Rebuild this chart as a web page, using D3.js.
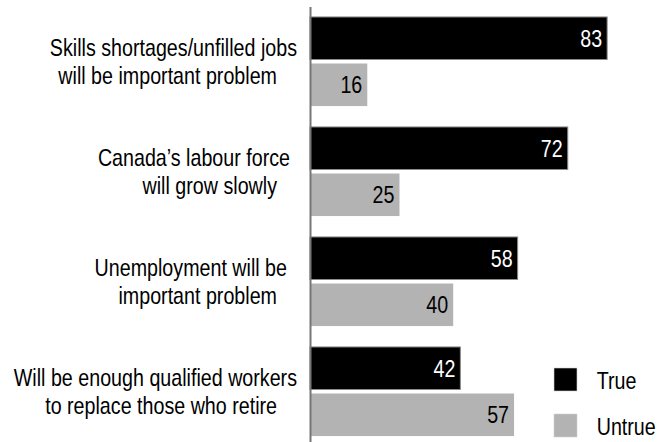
<!DOCTYPE html>
<html>
<head>
<meta charset="utf-8">
<script src="https://cdn.jsdelivr.net/npm/d3@7"></script>
<style>
  html, body { margin: 0; padding: 0; background: #fff; }
  svg { display: block; }
  text { font-family: "Liberation Sans", Arial, sans-serif; }
</style>
</head>
<body>
<svg id="chart" width="658" height="442"></svg>
<script>
// Survey statements, each shown on two lines
const categories = [
  "Skills shortages/unfilled jobs will be important problem",
  "Canada's labour force will grow slowly",
  "Unemployment will be important problem",
  "Will be enough qualified workers to replace those who retire"
];
const categoryLines = [
  ["Skills shortages/unfilled jobs", "will be important problem"],
  ["Canada\u2019s labour force", "will grow slowly"],
  ["Unemployment will be", "important problem"],
  ["Will be enough qualified workers", "to replace those who retire"]
];
const seriesNames = ["True", "Untrue"];
const trueValues = [83, 72, 58, 42];
const untrueValues = [16, 25, 40, 57];

// Layout and style
const W = 658, H = 442;
const axisX0 = 310, axisX100 = 668;
const colors = { True: "#000000", Untrue: "#b3b3b3" };
const labelColors = { True: "#ffffff", Untrue: "#000000" };
const lineRightEdge = [[297, 277], [290, 277], [287, 277], [297, 277]];
const fontSize = 24;
const narrow = 0.82; // horizontal squeeze for a condensed look

const svg = d3.select("#chart");

// Places a text at (px, py) with the condensed horizontal scale
function place(sel, px, py) {
  sel.attr("x", 0).attr("y", 0)
    .attr("transform", (d, i) => `translate(${px(d, i)},${py(d, i)}) scale(${narrow},1)`);
}

const x = d3.scaleLinear().domain([0, 100]).range([axisX0, axisX100]);
const y = d3.scaleBand().domain(categories).range([6.5, 446.5])
  .paddingInner(0.19).paddingOuter(0.095);
const ySub = d3.scaleBand().domain(seriesNames).range([0, y.bandwidth()])
  .paddingInner(0.086);

const rows = categories.map((c, i) => ({
  category: c,
  lines: categoryLines[i],
  values: [
    { series: "True", value: trueValues[i] },
    { series: "Untrue", value: untrueValues[i] }
  ]
}));

const groups = svg.append("g").selectAll("g.group")
  .data(rows).join("g")
  .attr("class", "group")
  .attr("transform", d => `translate(0,${y(d.category)})`);

groups.selectAll("rect")
  .data(d => d.values).join("rect")
  .attr("x", x(0))
  .attr("y", d => ySub(d.series))
  .attr("width", d => x(d.value) - x(0))
  .attr("height", ySub.bandwidth())
  .attr("fill", d => colors[d.series])
  .attr("stroke", d => d.series === "True" ? "#8c8c8c" : "none")
  .attr("stroke-width", 1);

groups.selectAll("text.value")
  .data(d => d.values).join("text")
  .attr("class", "value")
  .attr("text-anchor", "end")
  .attr("font-size", fontSize)
  .attr("fill", d => labelColors[d.series])
  .text(d => d.value)
  .call(place,
    d => x(d.value) - 5,
    d => ySub(d.series) + ySub.bandwidth() / 2 + fontSize * 0.36);

// Category labels, two lines beside each pair of bars
groups.each(function (d, i) {
  const cy = y.bandwidth() / 2;
  d3.select(this).selectAll("text.cat")
    .data(d.lines).join("text")
    .attr("class", "cat")
    .attr("text-anchor", "end")
    .attr("font-size", fontSize)
    .attr("fill", "#000")
    .text(t => t)
    .call(place, (t, j) => lineRightEdge[i][j], (t, j) => cy - 5.5 + j * 28);
});

// Vertical category axis without ticks
const axis = svg.append("g")
  .attr("transform", `translate(${axisX0},0)`)
  .call(d3.axisLeft(y).tickSize(0).tickSizeOuter(0).tickFormat(""));
axis.select(".domain").attr("stroke", "#767676").attr("stroke-width", 2);

// Legend
const legend = svg.append("g").attr("transform", "translate(554,368)");
const li = legend.selectAll("g").data(seriesNames).join("g")
  .attr("transform", (d, i) => `translate(0,${i * 46})`);
li.append("rect")
  .attr("width", 23).attr("height", 23)
  .attr("fill", d => colors[d])
  .attr("stroke", "#cfcfcf").attr("stroke-width", 0.6);
li.append("text")
  .attr("font-size", fontSize)
  .attr("fill", "#000")
  .text(d => d)
  .call(place, () => 42.7, () => 21);
</script>
</body>
</html>
